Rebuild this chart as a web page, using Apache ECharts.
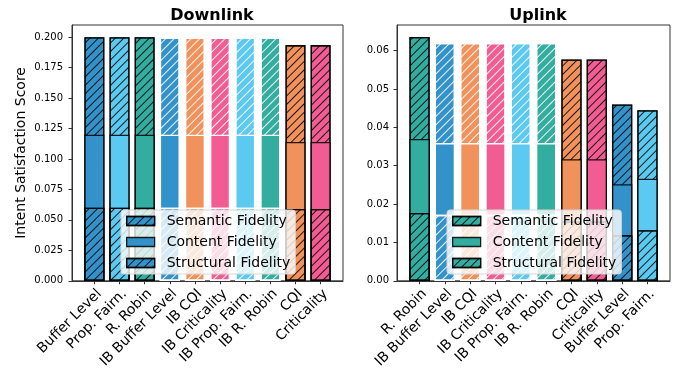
<!DOCTYPE html>
<html><head><meta charset="utf-8">
<script src="https://cdn.jsdelivr.net/npm/echarts@6/dist/echarts.min.js"></script>
<style>html,body{margin:0;padding:0;background:#fff}#c{width:688px;height:371px}</style>
</head><body><div id="c"></div>
<script>
// ---------- data ----------
const dlCategories = ['Buffer Level','Prop. Fairn.','R. Robin','IB Buffer Level','IB CQI','IB Criticality','IB Prop. Fairn.','IB R. Robin','CQI','Criticality'];
const dlStructural = [0.060,0.060,0.060,0.060,0.060,0.060,0.060,0.060,0.059,0.059];
const dlContent    = [0.060,0.060,0.060,0.060,0.060,0.060,0.060,0.060,0.055,0.055];
const dlSemantic   = [0.080,0.080,0.080,0.0795,0.0795,0.0795,0.0795,0.0795,0.0795,0.0795];

const ulCategories = ['R. Robin','IB Buffer Level','IB CQI','IB Criticality','IB Prop. Fairn.','IB R. Robin','CQI','Criticality','Buffer Level','Prop. Fairn.'];
const ulStructural = [0.0177,0.0172,0.0172,0.0172,0.0172,0.0172,0.0155,0.0155,0.0119,0.0132];
const ulContent    = [0.0193,0.0187,0.0187,0.0187,0.0187,0.0187,0.0162,0.0162,0.0133,0.0134];
const ulSemantic   = [0.0266,0.0261,0.0261,0.0261,0.0261,0.0261,0.0260,0.0260,0.0208,0.0179];

const dlYTicks = [0,0.025,0.05,0.075,0.1,0.125,0.15,0.175,0.2];
const ulYTicks = [0,0.01,0.02,0.03,0.04,0.05,0.06];
const layerNames = ['Semantic Fidelity','Content Fidelity','Structural Fidelity'];

// ---------- styling ----------
const palette = {'Buffer Level':'#3392c9','Prop. Fairn.':'#5cc9f1','R. Robin':'#33ada0','CQI':'#f1925c','Criticality':'#f15c92'};
const FONT = 'DejaVu Sans';
function baseName(c){ return c.replace(/^IB /,''); }
function isIB(c){ return c.indexOf('IB ') === 0; }
function hatch(color){ return {symbol:'rect', symbolSize:1, dashArrayX:[1,0], dashArrayY:[1,5], rotation:-Math.PI/4, color:color}; }

function buildSeries(cats, st, co, se, gi, bw){
  const c1 = st.slice();
  const c2 = st.map((v,i)=>v+co[i]);
  const c3 = c2.map((v,i)=>v+se[i]);
  const layers = [[layerNames[0],c3,true],[layerNames[1],c2,false],[layerNames[2],c1,true]];
  return layers.map(function(l){
    return {
      name:l[0], type:'bar', xAxisIndex:gi, yAxisIndex:gi, barWidth:bw, barGap:'-100%',
      silent:true,
      data:l[1].map(function(v,i){
        const ib = isIB(cats[i]);
        const edge = ib ? '#ffffff' : 'rgba(0,0,0,0.85)';
        const style = {color:palette[baseName(cats[i])], borderColor:edge, borderWidth:1.3};
        if (l[2]) style.decal = hatch(ib ? 'rgba(255,255,255,0.9)' : 'rgba(0,0,0,0.85)');
        return {value:[i,v], itemStyle:style};
      })
    };
  });
}

function legendFor(color, left){
  return {
    orient:'vertical', left:left, top:210, padding:[4,5,4,5], itemGap:7,
    itemWidth:28, itemHeight:9, selectedMode:false,
    backgroundColor:'rgba(255,255,255,0.8)', borderColor:'#d6d6d6', borderWidth:1, borderRadius:3,
    textStyle:{fontFamily:FONT, fontSize:14, color:'#000', lineHeight:14, padding:[0,0,0,7]},
    data:layerNames.map(function(n,k){
      const s = {color:color, borderColor:'rgba(0,0,0,0.85)', borderWidth:1.3};
      if (k !== 1) s.decal = hatch('rgba(0,0,0,0.85)');
      return {name:n, icon:'rect', itemStyle:s};
    })
  };
}

function xAxisFor(cats, gi){
  return {
    type:'value', gridIndex:gi, min:-0.89, max:9.89,
    splitLine:{show:false},
    axisLine:{show:true, lineStyle:{color:'#333', width:1}},
    axisTick:{show:true, length:3.5, customValues:cats.map((c,i)=>i), lineStyle:{color:'#333'}},
    axisLabel:{show:true, rotate:45, align:'right', verticalAlign:'top', fontFamily:FONT, fontSize:14, color:'#000', margin:6,
      customValues:cats.map((c,i)=>i), formatter:function(v){ return cats[Math.round(v)] || ''; }}
  };
}
function yAxisFor(ticks, max, digits, gi, name, margin){
  return {
    type:'value', gridIndex:gi, min:0, max:max,
    name:name, nameLocation:'middle', nameGap:44,
    nameTextStyle:{fontFamily:FONT, fontSize:14, color:'#000'},
    splitLine:{show:false},
    axisLine:{show:true, onZero:false, lineStyle:{color:'#333', width:1}},
    axisTick:{show:true, length:3.5, customValues:ticks, lineStyle:{color:'#333'}},
    axisLabel:{fontFamily:FONT, fontSize:10, color:'#000', margin:margin, customValues:ticks,
      formatter:function(v){ return v.toFixed(digits); }}
  };
}

const chart = echarts.init(document.getElementById('c'), null, {renderer:'canvas'});
chart.setOption({
  animation:false,
  backgroundColor:'#fff',
  title:[
    {text:'Downlink', left:207, top:3, textAlign:'center', textStyle:{fontFamily:FONT, fontSize:16, fontWeight:'bold', color:'#000'}},
    {text:'Uplink', left:533, top:3, textAlign:'center', textStyle:{fontFamily:FONT, fontSize:16, fontWeight:'bold', color:'#000'}}
  ],
  grid:[
    {left:72, right:345, top:25, bottom:89, show:true, borderColor:'#333', borderWidth:1, backgroundColor:'transparent'},
    {left:397, right:18, top:25, bottom:89, show:true, borderColor:'#333', borderWidth:1, backgroundColor:'transparent'}
  ],
  legend:[legendFor(palette['Buffer Level'], 121), legendFor(palette['R. Robin'], 447)],
  xAxis:[xAxisFor(dlCategories,0), xAxisFor(ulCategories,1)],
  yAxis:[yAxisFor(dlYTicks,0.21,3,0,'Intent Satisfaction Score',9), yAxisFor(ulYTicks,0.0667,2,1,'',8)],
  series:[].concat(
    buildSeries(dlCategories, dlStructural, dlContent, dlSemantic, 0, 20),
    buildSeries(ulCategories, ulStructural, ulContent, ulSemantic, 1, 20.3)
  )
});
</script></body></html>
